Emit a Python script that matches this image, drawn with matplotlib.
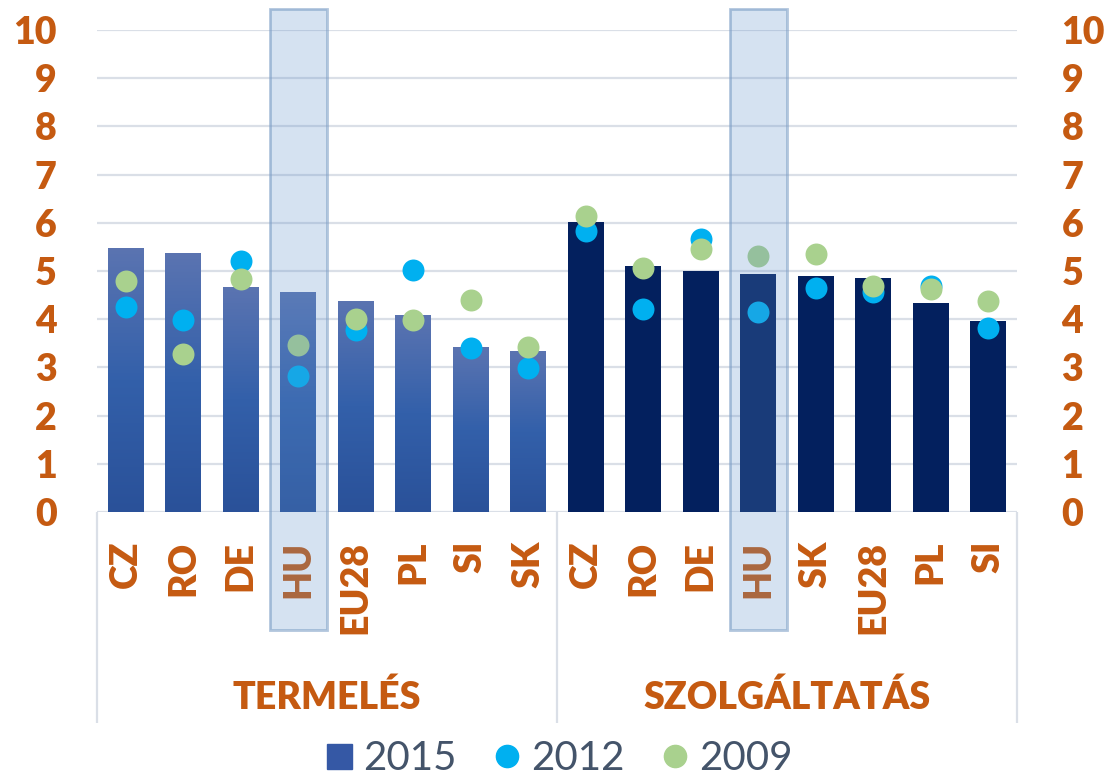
import numpy as np
import matplotlib
matplotlib.use("Agg")
from matplotlib import pyplot as plt
from matplotlib.colors import LinearSegmentedColormap
from matplotlib.patches import Rectangle
from matplotlib.lines import Line2D

plt.rcParams['font.family'] = ['Lato', 'DejaVu Sans']

# adatok
orszagok = ['CZ', 'RO', 'DE', 'HU', 'EU28', 'PL', 'SI', 'SK',
            'CZ', 'RO', 'DE', 'HU', 'SK', 'EU28', 'PL', 'SI']
csoportok = ['TERMELÉS', 'SZOLGÁLTATÁS']
ertek_2015 = [5.48, 5.38, 4.67, 4.56, 4.38, 4.09, 3.42, 3.34,
              6.02, 5.10, 5.00, 4.93, 4.90, 4.85, 4.34, 3.96]
ertek_2012 = [4.26, 3.98, 5.21, 2.83, 3.78, 5.02, 3.40, 2.99,
              5.84, 4.21, 5.66, 4.14, 4.64, 4.57, 4.69, 3.82]
ertek_2009 = [4.79, 3.28, 4.83, 3.47, 4.00, 3.98, 4.40, 3.42,
              6.14, 5.07, 5.46, 5.31, 5.36, 4.69, 4.63, 4.38]
kiemelt = [3, 11]

narancs = '#c55a11'
sotetkek = '#03205e'
cian = '#00b0f0'
zold = '#a9d18e'
racs = '#dadfe7'
vastag = 'heavy'

fig = plt.figure(figsize=(11.04, 7.82), dpi=100)
ax = fig.add_axes([97/1104, 1 - 512/782, 920/1104, 482/782])

x = np.arange(len(orszagok))

for gy in range(1, 11):
    ax.axhline(gy, color=racs, linewidth=1.6, zorder=0)

# oszlopok: termelés színátmenettel, szolgáltatás sötétkék
szinatmenet = LinearSegmentedColormap.from_list(
    'termeles', ['#2a5199', '#3360aa', '#5b74b1'])
bars = ax.bar(x, ertek_2015, width=0.62, color=sotetkek, zorder=2)
for i, b in enumerate(bars):
    if i < 8:
        b.set_facecolor('none')
        grad = np.linspace(0, 1, 256).reshape(-1, 1)
        im = ax.imshow(grad, cmap=szinatmenet, aspect='auto', origin='lower',
                       extent=[b.get_x(), b.get_x() + b.get_width(), 0, b.get_height()],
                       zorder=2)
        im.set_clip_path(b)
ax.set_xlim(-0.5, len(orszagok) - 0.5)
ax.set_ylim(0, 10)

ax.scatter(x, ertek_2012, s=250, color=cian, zorder=3, linewidths=0)
ax.scatter(x, ertek_2009, s=250, color=zold, zorder=4, linewidths=0)

# HU kiemelése
for k in kiemelt:
    ax.add_patch(Rectangle((k - 0.5, -2.45), 1.0, 12.88, facecolor='#5b8fcb',
                           alpha=0.25, edgecolor='none', zorder=5, clip_on=False))
    ax.add_patch(Rectangle((k - 0.5, -2.45), 1.0, 12.88, facecolor='none',
                           edgecolor='#7d9fc6', alpha=0.6, linewidth=2,
                           zorder=5, clip_on=False))

for s in ax.spines.values():
    s.set_visible(False)
ax.axhline(0, color=racs, linewidth=1.6, zorder=1)
ax.vlines([-0.5, 7.5, 15.5], -4.38, 0, color=racs, linewidth=1.6, clip_on=False)

ax.set_xticks([])
ax.set_yticks(range(0, 11))
ax.tick_params(axis='y', length=0, labelsize=27, labelcolor=narancs, pad=29)
for lab in ax.get_yticklabels():
    lab.set_fontweight(vastag)

# jobb oldali tengelyfeliratok
ax2 = ax.twinx()
ax2.set_ylim(0, 10)
ax2.set_yticks(range(0, 11))
ax2.tick_params(axis='y', length=0, labelsize=27, labelcolor=narancs, pad=32)
for lab in ax2.get_yticklabels():
    lab.set_fontweight(vastag)
for s in ax2.spines.values():
    s.set_visible(False)

for i, nev in enumerate(orszagok):
    ax.text(i, -0.6, nev, rotation=90, ha='center', va='top', fontsize=27,
            fontweight=vastag, color=narancs, zorder=4)
for j, cs in enumerate(csoportok):
    ax.text(3.5 + 8 * j, -3.84, cs, ha='center', va='center', fontsize=27,
            fontweight=vastag, color=narancs)

jelek = [
    Line2D([], [], marker='s', linestyle='none', markersize=18, color='#3558a5'),
    Line2D([], [], marker='o', linestyle='none', markersize=16, color=cian),
    Line2D([], [], marker='o', linestyle='none', markersize=16, color=zold),
]
fig.legend(jelek, ['2015', '2012', '2009'], loc='center', ncol=3,
           bbox_to_anchor=(0.504, 1 - 759/782), frameon=False, fontsize=29,
           labelcolor='#44546a', handletextpad=0.15, columnspacing=0.8,
           handlelength=0.9, borderpad=0)

fig.savefig('out.png', dpi=100)
